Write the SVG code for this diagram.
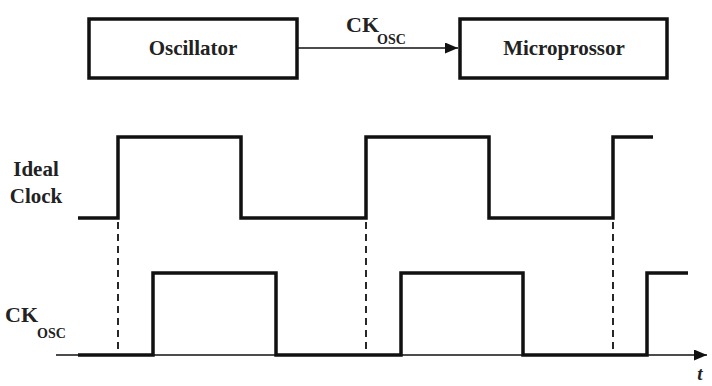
<svg xmlns="http://www.w3.org/2000/svg" width="712" height="386" viewBox="0 0 712 386">
<defs>
<style>
.box{fill:#fff;stroke:#111;stroke-width:3.5}
.lbl{font-family:"Liberation Serif",serif;font-weight:bold;fill:#222}
.wave{fill:none;stroke:#111;stroke-width:3.5;stroke-linejoin:miter}
.dash{fill:none;stroke:#111;stroke-width:1.8;stroke-dasharray:7,5}
.thin{fill:none;stroke:#111;stroke-width:1.6}
</style>
<marker id="ah" markerWidth="13" markerHeight="11" refX="13" refY="5.5" orient="auto" markerUnits="userSpaceOnUse">
<path d="M0,0 L13,5.5 L0,11 Z" fill="#111"/>
</marker>
</defs>
<rect width="712" height="386" fill="#fff"/>
<g id="oscillator">
<rect class="box" x="89" y="19" width="208" height="59"/>
<text class="lbl" x="193" y="55" font-size="21" text-anchor="middle">Oscillator</text>
</g>
<g id="microprocessor">
<rect class="box" x="460" y="19" width="207" height="59"/>
<text class="lbl" x="564" y="55" font-size="21" text-anchor="middle">Microprossor</text>
</g>
<g id="connectors">
<line class="thin" x1="298" y1="48" x2="458" y2="48" marker-end="url(#ah)"/>
<text class="lbl" x="346" y="32" font-size="22">CK</text>
<text class="lbl" x="377" y="44" font-size="14">OSC</text>
</g>
<g id="ideal-clock">
<text class="lbl" x="36" y="176" font-size="21" text-anchor="middle">Ideal</text>
<text class="lbl" x="36" y="203" font-size="21" text-anchor="middle">Clock</text>
<path class="wave" d="M78,218 H118 V137 H241 V218 H366 V137 H489 V218 H613 V137 H653"/>
</g>
<g id="guides">
<line class="dash" x1="118" y1="222" x2="118" y2="355"/>
<line class="dash" x1="366" y1="222" x2="366" y2="355"/>
<line class="dash" x1="613" y1="222" x2="613" y2="355"/>
</g>
<g id="ck-osc">
<text class="lbl" x="5" y="322" font-size="22">CK</text>
<text class="lbl" x="37" y="338" font-size="14">OSC</text>
<line class="thin" x1="56" y1="355" x2="707" y2="355" marker-end="url(#ah)"/>
<path class="wave" d="M78,355 H153 V273 H276 V355 H401 V273 H523 V355 H647 V273 H688"/>
<text x="700" y="380" font-family="Liberation Serif,serif" font-style="italic" font-weight="bold" font-size="19" fill="#222" text-anchor="middle">t</text>
</g>
</svg>
